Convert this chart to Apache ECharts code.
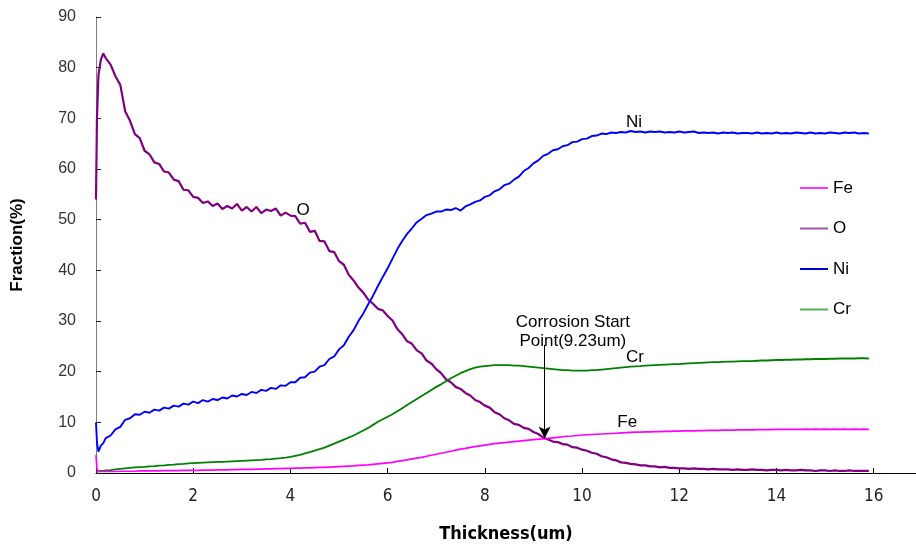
<!DOCTYPE html>
<html>
<head>
<meta charset="utf-8">
<script src="https://cdn.jsdelivr.net/npm/echarts@6/dist/echarts.min.js"></script>
<style>
  html, body { margin: 0; padding: 0; background: #fff; }
  #chart { width: 916px; height: 551px; }
</style>
</head>
<body>
<div id="chart"></div>
<script>
// Depth profile: element fraction (%) versus thickness (um)
const thickness = [
  0, 0.02, 0.05, 0.1, 0.15, 0.2, 0.3, 0.4, 0.5, 0.6, 0.7, 0.8, 0.9, 1.0,
  1.1, 1.2, 1.3, 1.4, 1.5, 1.6, 1.7, 1.8, 1.9, 2.0,
  2.1, 2.2, 2.3, 2.4, 2.5, 2.6, 2.7, 2.8, 2.9, 3.0,
  3.1, 3.2, 3.3, 3.4, 3.5, 3.6, 3.7, 3.8, 3.9, 4.0,
  4.1, 4.2, 4.3, 4.4, 4.5, 4.6, 4.7, 4.8, 4.9, 5.0,
  5.1, 5.2, 5.3, 5.4, 5.5, 5.6, 5.7, 5.8, 5.9, 6.0,
  6.1, 6.2, 6.3, 6.4, 6.5, 6.6, 6.7, 6.8, 6.9, 7.0,
  7.1, 7.2, 7.3, 7.4, 7.5, 7.6, 7.7, 7.8, 7.9, 8.0,
  8.1, 8.2, 8.3, 8.4, 8.5, 8.6, 8.7, 8.8, 8.9, 9.0,
  9.1, 9.2, 9.3, 9.4, 9.5, 9.6, 9.7, 9.8, 9.9, 10.0,
  10.1, 10.2, 10.3, 10.4, 10.5, 10.6, 10.7, 10.8, 10.9, 11.0,
  11.1, 11.2, 11.3, 11.4, 11.5, 11.6, 11.7, 11.8, 11.9, 12.0,
  12.1, 12.2, 12.3, 12.4, 12.5, 12.6, 12.7, 12.8, 12.9, 13.0,
  13.1, 13.2, 13.3, 13.4, 13.5, 13.6, 13.7, 13.8, 13.9, 14.0,
  14.1, 14.2, 14.3, 14.4, 14.5, 14.6, 14.7, 14.8, 14.9, 15.0,
  15.1, 15.2, 15.3, 15.4, 15.5, 15.6, 15.7, 15.8, 15.9
];

const fe = [
  3.5, 0.8, 0.3, 0.3, 0.3, 0.3, 0.3, 0.3, 0.35, 0.35, 0.35, 0.35, 0.4, 0.4,
  0.4, 0.4, 0.4, 0.45, 0.45, 0.45, 0.45, 0.5, 0.5, 0.5,
  0.5, 0.55, 0.55, 0.55, 0.6, 0.6, 0.6, 0.65, 0.65, 0.7,
  0.7, 0.7, 0.75, 0.75, 0.8, 0.8, 0.85, 0.85, 0.9, 0.9,
  0.95, 0.95, 1.0, 1.0, 1.05, 1.1, 1.1, 1.15, 1.2, 1.25,
  1.3, 1.35, 1.4, 1.5, 1.55, 1.6, 1.7, 1.8, 1.9, 2.0,
  2.1, 2.3, 2.45, 2.6, 2.8, 2.95, 3.1, 3.3, 3.5, 3.7,
  3.9, 4.1, 4.3, 4.5, 4.7, 4.85, 5.05, 5.2, 5.35, 5.5,
  5.65, 5.8, 5.9, 6.0, 6.1, 6.2, 6.3, 6.4, 6.5, 6.6,
  6.7, 6.75, 6.85, 6.95, 7.05, 7.15, 7.25, 7.3, 7.4, 7.5,
  7.55, 7.6, 7.65, 7.7, 7.75, 7.8, 7.85, 7.9, 7.95, 8.0,
  8.05, 8.05, 8.1, 8.1, 8.15, 8.15, 8.2, 8.2, 8.25, 8.25,
  8.3, 8.3, 8.3, 8.35, 8.35, 8.4, 8.4, 8.4, 8.45, 8.45,
  8.45, 8.5, 8.5, 8.5, 8.5, 8.55, 8.55, 8.55, 8.55, 8.6,
  8.6, 8.6, 8.6, 8.6, 8.6, 8.65, 8.6, 8.65, 8.6, 8.65,
  8.6, 8.65, 8.6, 8.65, 8.6, 8.65, 8.6, 8.65, 8.6
];

const oxygen = [
  54, 70, 78.5, 81.6, 82.8, 81.9, 80.6, 78.3, 76.6, 71.4, 69.5, 66.9, 66.1, 63.6,
  62.9, 61.3, 61.0, 59.5, 59.3, 57.9, 57.6, 55.9, 55.8, 54.5,
  54.3, 53.3, 53.6, 52.7, 53.2, 52.1, 52.7, 52.2, 53.1, 51.8,
  52.5, 51.6, 52.5, 51.3, 52.0, 51.7, 52.2, 50.8, 51.4, 50.8,
  50.7, 49.2, 49.4, 47.6, 47.8, 45.8, 45.7, 43.8, 43.6, 41.8,
  41.1, 39.1, 38.0, 36.6, 35.6, 34.2, 33.4, 32.4, 32.1, 31.0,
  30.1, 28.4, 27.4, 26.0, 25.5, 24.2, 23.6, 22.2, 21.6, 20.5,
  19.7, 18.5, 17.9, 17.0, 16.6, 15.8, 15.3, 14.4, 14.0, 13.3,
  12.9, 12.0, 11.6, 10.8, 10.4, 9.7, 9.5, 8.9, 8.7, 8.1,
  7.7, 7.0, 6.6, 6.2, 6.1, 5.7, 5.6, 5.1, 5.0, 4.6,
  4.4, 4.0, 3.8, 3.3, 3.1, 2.7, 2.5, 2.1, 2.0, 1.8,
  1.7, 1.5, 1.5, 1.3, 1.3, 1.1, 1.2, 1.0, 1.0, 0.9,
  0.9, 0.8, 0.9, 0.8, 0.8, 0.7, 0.8, 0.7, 0.7, 0.7,
  0.6, 0.7, 0.6, 0.6, 0.7, 0.6, 0.6, 0.5, 0.6, 0.6,
  0.5, 0.6, 0.5, 0.5, 0.6, 0.5, 0.5, 0.4, 0.5, 0.5,
  0.4, 0.5, 0.4, 0.4, 0.5, 0.4, 0.4, 0.4, 0.4
];

const nickel = [
  10.0, 6.0, 4.2, 5.4, 5.9, 6.9, 7.4, 8.6, 9.1, 10.5, 10.8, 11.6, 11.5, 12.1,
  11.9, 12.5, 12.3, 12.9, 12.7, 13.3, 13.1, 13.7, 13.5, 14.1,
  13.8, 14.4, 14.1, 14.6, 14.4, 14.9, 14.7, 15.3, 15.1, 15.6,
  15.4, 16.0, 15.8, 16.4, 16.2, 16.8, 16.6, 17.3, 17.2, 17.9,
  17.9, 18.8, 18.9, 19.8, 20.0, 21.0, 21.3, 22.5, 23.0, 24.4,
  25.2, 26.9, 28.2, 30.0, 31.5, 33.3, 35.0, 36.9, 38.7, 40.4,
  42.3, 44.2, 45.8, 47.2, 48.3, 49.5, 50.2, 50.9, 51.2, 51.6,
  51.6, 52.0, 51.9, 52.3, 51.8, 52.6, 53.0, 53.5, 53.8, 54.5,
  54.8, 55.6, 56.0, 56.8, 57.1, 57.9, 58.5, 59.6, 60.2, 61.1,
  61.7, 62.6, 63.0, 63.7, 63.9, 64.5, 64.7, 65.3, 65.4, 65.9,
  66.0, 66.5, 66.6, 67.0, 66.9, 67.2, 67.1, 67.3, 67.2, 67.5,
  67.3, 67.4, 67.2, 67.4, 67.3, 67.4, 67.2, 67.3, 67.2, 67.4,
  67.2, 67.3, 67.4, 67.1, 67.2, 67.1, 67.2, 67.0, 67.2, 67.1,
  67.2, 67.0, 67.1, 67.1, 67.0, 67.2, 67.0, 67.1, 67.0, 67.2,
  67.0, 67.1, 67.0, 67.2, 67.1, 67.0, 67.2, 67.0, 67.1, 67.0,
  67.2, 67.1, 67.0, 67.2, 67.1, 67.2, 67.0, 67.1, 67.0
];

const chromium = [
  0.3, 0.3, 0.3, 0.4, 0.4, 0.5, 0.55, 0.7, 0.8, 0.9, 1.0, 1.1, 1.15, 1.2,
  1.3, 1.35, 1.45, 1.5, 1.6, 1.65, 1.75, 1.8, 1.9, 1.95,
  2.0, 2.05, 2.1, 2.15, 2.2, 2.2, 2.25, 2.3, 2.35, 2.4,
  2.45, 2.5, 2.55, 2.6, 2.7, 2.75, 2.85, 2.95, 3.05, 3.2,
  3.4, 3.6, 3.85, 4.1, 4.4, 4.7, 5.0, 5.4, 5.8, 6.2,
  6.6, 7.0, 7.4, 7.9, 8.4, 8.9, 9.5, 10.1, 10.6, 11.1,
  11.6, 12.2, 12.8, 13.4, 14.0, 14.6, 15.2, 15.8, 16.4, 17.0,
  17.5, 18.1, 18.7, 19.2, 19.7, 20.1, 20.5, 20.8, 21.0, 21.1,
  21.2, 21.3, 21.3, 21.3, 21.3, 21.2, 21.2, 21.1, 21.0, 20.9,
  20.8, 20.7, 20.6, 20.5, 20.4, 20.3, 20.3, 20.2, 20.2, 20.2,
  20.2, 20.3, 20.3, 20.4, 20.5, 20.6, 20.7, 20.8, 20.9, 21.0,
  21.05, 21.1, 21.2, 21.25, 21.3, 21.35, 21.4, 21.45, 21.5, 21.5,
  21.6, 21.65, 21.7, 21.75, 21.8, 21.85, 21.9, 21.9, 21.95, 22.0,
  22.0, 22.05, 22.1, 22.1, 22.1, 22.15, 22.2, 22.2, 22.25, 22.3,
  22.3, 22.35, 22.35, 22.4, 22.4, 22.45, 22.45, 22.5, 22.5, 22.5,
  22.55, 22.55, 22.6, 22.6, 22.6, 22.6, 22.65, 22.65, 22.6
];

const seriesNames = ['Fe', 'O', 'Ni', 'Cr'];
const lineColors = ['#ff00ff', '#800080', '#0000ff', '#008000'];
const legendColors = ['#ff33ff', '#a05aa5', '#0000dd', '#55b055'];

// in-plot element tags, placed in data space [thickness, fraction]
const tagFe = [10.93, 10.1];
const tagO = [4.26, 51.9];
const tagNi = [11.07, 69.3];
const tagCr = [11.09, 22.9];

// corrosion start marker
const corrosionX = 9.23;
const corrosionY = 6.8;
const corrosionArrowTop = 25.3;
const corrosionTextAt = [9.81, 27.8];
const corrosionText = 'Corrosion Start\nPoint(9.23um)';

const xTicks = [0, 2, 4, 6, 8, 10, 12, 14, 16];

const pairs = vals => thickness.map((t, i) => [t, vals[i]]);

const tagStyle = {
  show: true, position: 'inside', color: '#000',
  fontFamily: 'Liberation Sans, Arial, sans-serif', fontSize: 17
};
const tag = (coord, text) => ({
  coord: coord, symbol: 'circle', symbolSize: 0,
  label: Object.assign({}, tagStyle, { formatter: text })
});

const chart = echarts.init(document.getElementById('chart'), null, { renderer: 'canvas' });

const option = {
  backgroundColor: '#ffffff',
  animation: false,
  grid: { left: 96, right: 0, top: 17, bottom: 78 },
  legend: {
    orient: 'vertical',
    left: 795,
    top: 173,
    icon: 'rect',
    itemWidth: 28,
    itemHeight: 2,
    itemGap: 20.5,
    selectedMode: false,
    textStyle: {
      color: '#000', fontSize: 17, lineHeight: 20,
      fontFamily: 'Liberation Sans, Arial, sans-serif'
    },
    data: seriesNames.map((n, i) => ({ name: n, itemStyle: { color: legendColors[i] } }))
  },
  xAxis: {
    type: 'value',
    min: 0,
    max: 16.87,
    interval: 2,
    name: 'Thickness(um)',
    nameLocation: 'middle',
    nameGap: 52,
    nameTextStyle: {
      color: '#000', fontSize: 18, fontWeight: 'bold',
      fontFamily: 'Liberation Sans Narrow, DejaVu Sans Condensed, Arial, sans-serif'
    },
    splitLine: { show: false },
    axisLine: { show: true, onZero: false, lineStyle: { color: '#000', width: 1 } },
    axisTick: { show: true, inside: true, length: 5, lineStyle: { color: '#000' } },
    axisLabel: {
      margin: 15, color: '#222', fontSize: 17,
      fontFamily: 'Liberation Sans Narrow, DejaVu Sans Condensed, Arial, sans-serif',
      showMaxLabel: false,
      formatter: v => (xTicks.indexOf(v) >= 0 ? String(v) : '')
    }
  },
  yAxis: {
    type: 'value',
    min: 0,
    max: 90,
    interval: 10,
    name: 'Fraction(%)',
    nameLocation: 'middle',
    nameGap: 70,
    nameTextStyle: {
      color: '#000', fontSize: 17, fontWeight: 'bold',
      fontFamily: 'Liberation Sans, Arial, sans-serif'
    },
    splitLine: { show: false },
    axisLine: { show: true, lineStyle: { color: '#808080', width: 1 } },
    axisTick: { show: true, inside: true, length: 5, lineStyle: { color: '#222' } },
    axisLabel: {
      margin: 20, color: '#333', fontSize: 16,
      fontFamily: 'Liberation Sans, Arial, sans-serif'
    }
  },
  series: [
    {
      name: 'Fe', type: 'line', data: pairs(fe), showSymbol: false,
      color: lineColors[0], lineStyle: { color: lineColors[0], width: 1.7 },
      z: 3,
      markPoint: { data: [tag(tagFe, 'Fe')], silent: true, animation: false }
    },
    {
      name: 'O', type: 'line', data: pairs(oxygen), showSymbol: false,
      color: lineColors[1], lineStyle: { color: lineColors[1], width: 2.2 },
      z: 2,
      markPoint: { data: [tag(tagO, 'O')], silent: true, animation: false }
    },
    {
      name: 'Ni', type: 'line', data: pairs(nickel), showSymbol: false,
      color: lineColors[2], lineStyle: { color: lineColors[2], width: 1.9 },
      z: 2,
      markPoint: { data: [tag(tagNi, 'Ni')], silent: true, animation: false }
    },
    {
      name: 'Cr', type: 'line', data: pairs(chromium), showSymbol: false,
      color: lineColors[3], lineStyle: { color: lineColors[3], width: 1.8 },
      z: 2,
      markPoint: {
        silent: true, animation: false,
        data: [
          tag(tagCr, 'Cr'),
          Object.assign(tag(corrosionTextAt, corrosionText), {
            label: Object.assign({}, tagStyle, { formatter: corrosionText, lineHeight: 19, align: 'center' })
          })
        ]
      },
      markLine: {
        silent: true,
        animation: false,
        symbol: ['none', 'arrow'],
        symbolSize: [9, 12],
        label: { show: false },
        lineStyle: { color: '#000', width: 1, type: 'solid' },
        emphasis: { disabled: true },
        data: [[
          { coord: [corrosionX, corrosionArrowTop], symbol: 'none' },
          { coord: [corrosionX, corrosionY], symbol: 'arrow' }
        ]]
      }
    }
  ]
};

chart.setOption(option);
</script>
</body>
</html>
